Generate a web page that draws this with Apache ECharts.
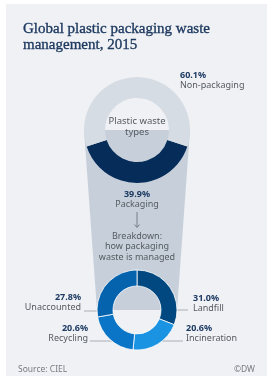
<!DOCTYPE html>
<html><head><meta charset="utf-8">
<script src="https://cdn.jsdelivr.net/npm/echarts@6/dist/echarts.min.js"></script>
<style>html,body{margin:0;padding:0;background:#fff}#c{width:273px;height:382px}</style>
</head><body><div id="c"></div>
<script>
// Data
const typeNames = ['Packaging', 'Non-packaging'];
const typeValues = [39.9, 60.1];
const mgmtNames = ['Landfill', 'Incineration', 'Recycling', 'Unaccounted'];
const mgmtValues = [31.0, 20.6, 20.6, 27.8];

const topPie = {cx: 137, cy: 130, r0: 32, r1: 53};
const botPie = {cx: 137, cy: 310, r0: 24, r1: 40};
const navyText = '#1d3a63';
const greyText = '#555a60';
const font = 'Noto Sans';

function richLabel(){
  return {
    fontFamily: font,
    rich: {
      v: {fontSize: 9, fontWeight: 'bold', color: navyText, lineHeight: 10, fontFamily: font},
      n: {fontSize: 9, color: greyText, lineHeight: 10, fontFamily: font}
    },
    formatter: p => '{v|' + p.value.toFixed(1) + '%}\n{n|' + p.name + '}'
  };
}

// label placement (layout only)
const topLabelPos = [
  {x: topPie.cx, y: 199, align: 'center'},
  {x: 180, y: 80, align: 'left'}
];
const botLabelPos = [
  {x: 193, y: 303, align: 'left', line: [[170, 310], [188, 310]]},
  {x: 186, y: 333.5, align: 'left', line: [[157, 341], [183, 341]]},
  {x: 88, y: 333.5, align: 'right', line: [[118, 341], [90, 341]]},
  {x: 81, y: 302, align: 'right', line: [[102, 311], [84, 311]]}
];

const chart = echarts.init(document.getElementById('c'), null, {renderer: 'canvas'});
chart.setOption({
  backgroundColor: '#ffffff',
  animation: false,
  title: {
    text: 'Global plastic packaging waste\nmanagement, 2015',
    left: 18, top: 16,
    textStyle: {fontFamily: 'Liberation Serif', fontSize: 15, fontWeight: 'normal', color: '#1f3a60', lineHeight: 16,
                textBorderColor: '#1f3a60', textBorderWidth: 0.35}
  },
  graphic: [
    {type: 'rect', z: -10, silent: true, shape: {x: 6, y: 4, width: 261, height: 372}, style: {fill: '#eff1f4'}},
    {type: 'polygon', z: -5, silent: true,
     shape: {points: [[topPie.cx - topPie.r1, topPie.cy], [topPie.cx + topPie.r1, topPie.cy], [botPie.cx + botPie.r1, botPie.cy], [botPie.cx - botPie.r1, botPie.cy]]},
     style: {fill: '#c7d0da'}},
    {type: 'text', style: {text: 'Plastic waste\ntypes', x: topPie.cx, y: 127, align: 'center', verticalAlign: 'middle', fontFamily: font, fontSize: 9.5, fill: greyText, lineHeight: 10.5}},
    {type: 'line', shape: {x1: topPie.cx, y1: 212, x2: topPie.cx, y2: 227}, style: {stroke: '#666b72', lineWidth: 0.8}},
    {type: 'polyline', shape: {points: [[topPie.cx - 2.5, 224.5], [topPie.cx, 227.5], [topPie.cx + 2.5, 224.5]]}, style: {stroke: '#666b72', lineWidth: 0.8, fill: null}},
    {type: 'text', style: {text: 'Breakdown:\nhow packaging\nwaste is managed', x: topPie.cx, y: 246.5, align: 'center', verticalAlign: 'middle', fontFamily: font, fontSize: 9, fill: greyText, lineHeight: 10.5}},
    {type: 'text', style: {text: 'Source: CIEL', x: 18, y: 370, align: 'left', verticalAlign: 'middle', fontFamily: font, fontSize: 8.5, fill: '#777c82'}},
    {type: 'text', style: {text: '\u00A9DW', x: 255, y: 370, align: 'right', verticalAlign: 'middle', fontFamily: font, fontSize: 8.5, fill: '#777c82'}}
  ],
  series: [
    {
      type: 'pie', center: [topPie.cx, topPie.cy], radius: [topPie.r0, topPie.r1],
      startAngle: 90 - (180 - typeValues[0] / 100 * 180), clockwise: true,
      avoidLabelOverlap: false,
      data: typeNames.map((n, i) => ({name: n, value: typeValues[i]})),
      color: ['#062c5a', '#d6dce3'],
      label: Object.assign({show: true, position: 'outside'}, richLabel()),
      labelLine: {show: false},
      labelLayout: p => ({x: topLabelPos[p.dataIndex].x, y: topLabelPos[p.dataIndex].y, align: topLabelPos[p.dataIndex].align, verticalAlign: 'middle'}),
      emphasis: {disabled: true}
    },
    {
      type: 'pie', center: [botPie.cx, botPie.cy], radius: [botPie.r0, botPie.r1],
      startAngle: 90, clockwise: true,
      avoidLabelOverlap: false,
      data: mgmtNames.map((n, i) => ({name: n, value: mgmtValues[i]})),
      color: ['#00487f', '#1a93e2', '#0a74c6', '#0562ad'],
      itemStyle: {borderColor: '#ffffff', borderWidth: 0.8},
      label: Object.assign({show: true, position: 'outside'}, richLabel()),
      labelLine: {show: true, lineStyle: {color: '#9aa0a6', width: 0.8}},
      labelLayout: p => {
        const o = botLabelPos[p.dataIndex];
        return {x: o.x, y: o.y, align: o.align, verticalAlign: 'middle', labelLinePoints: [o.line[0], o.line[0], o.line[1]]};
      },
      emphasis: {disabled: true}
    }
  ]
});
</script></body></html>
